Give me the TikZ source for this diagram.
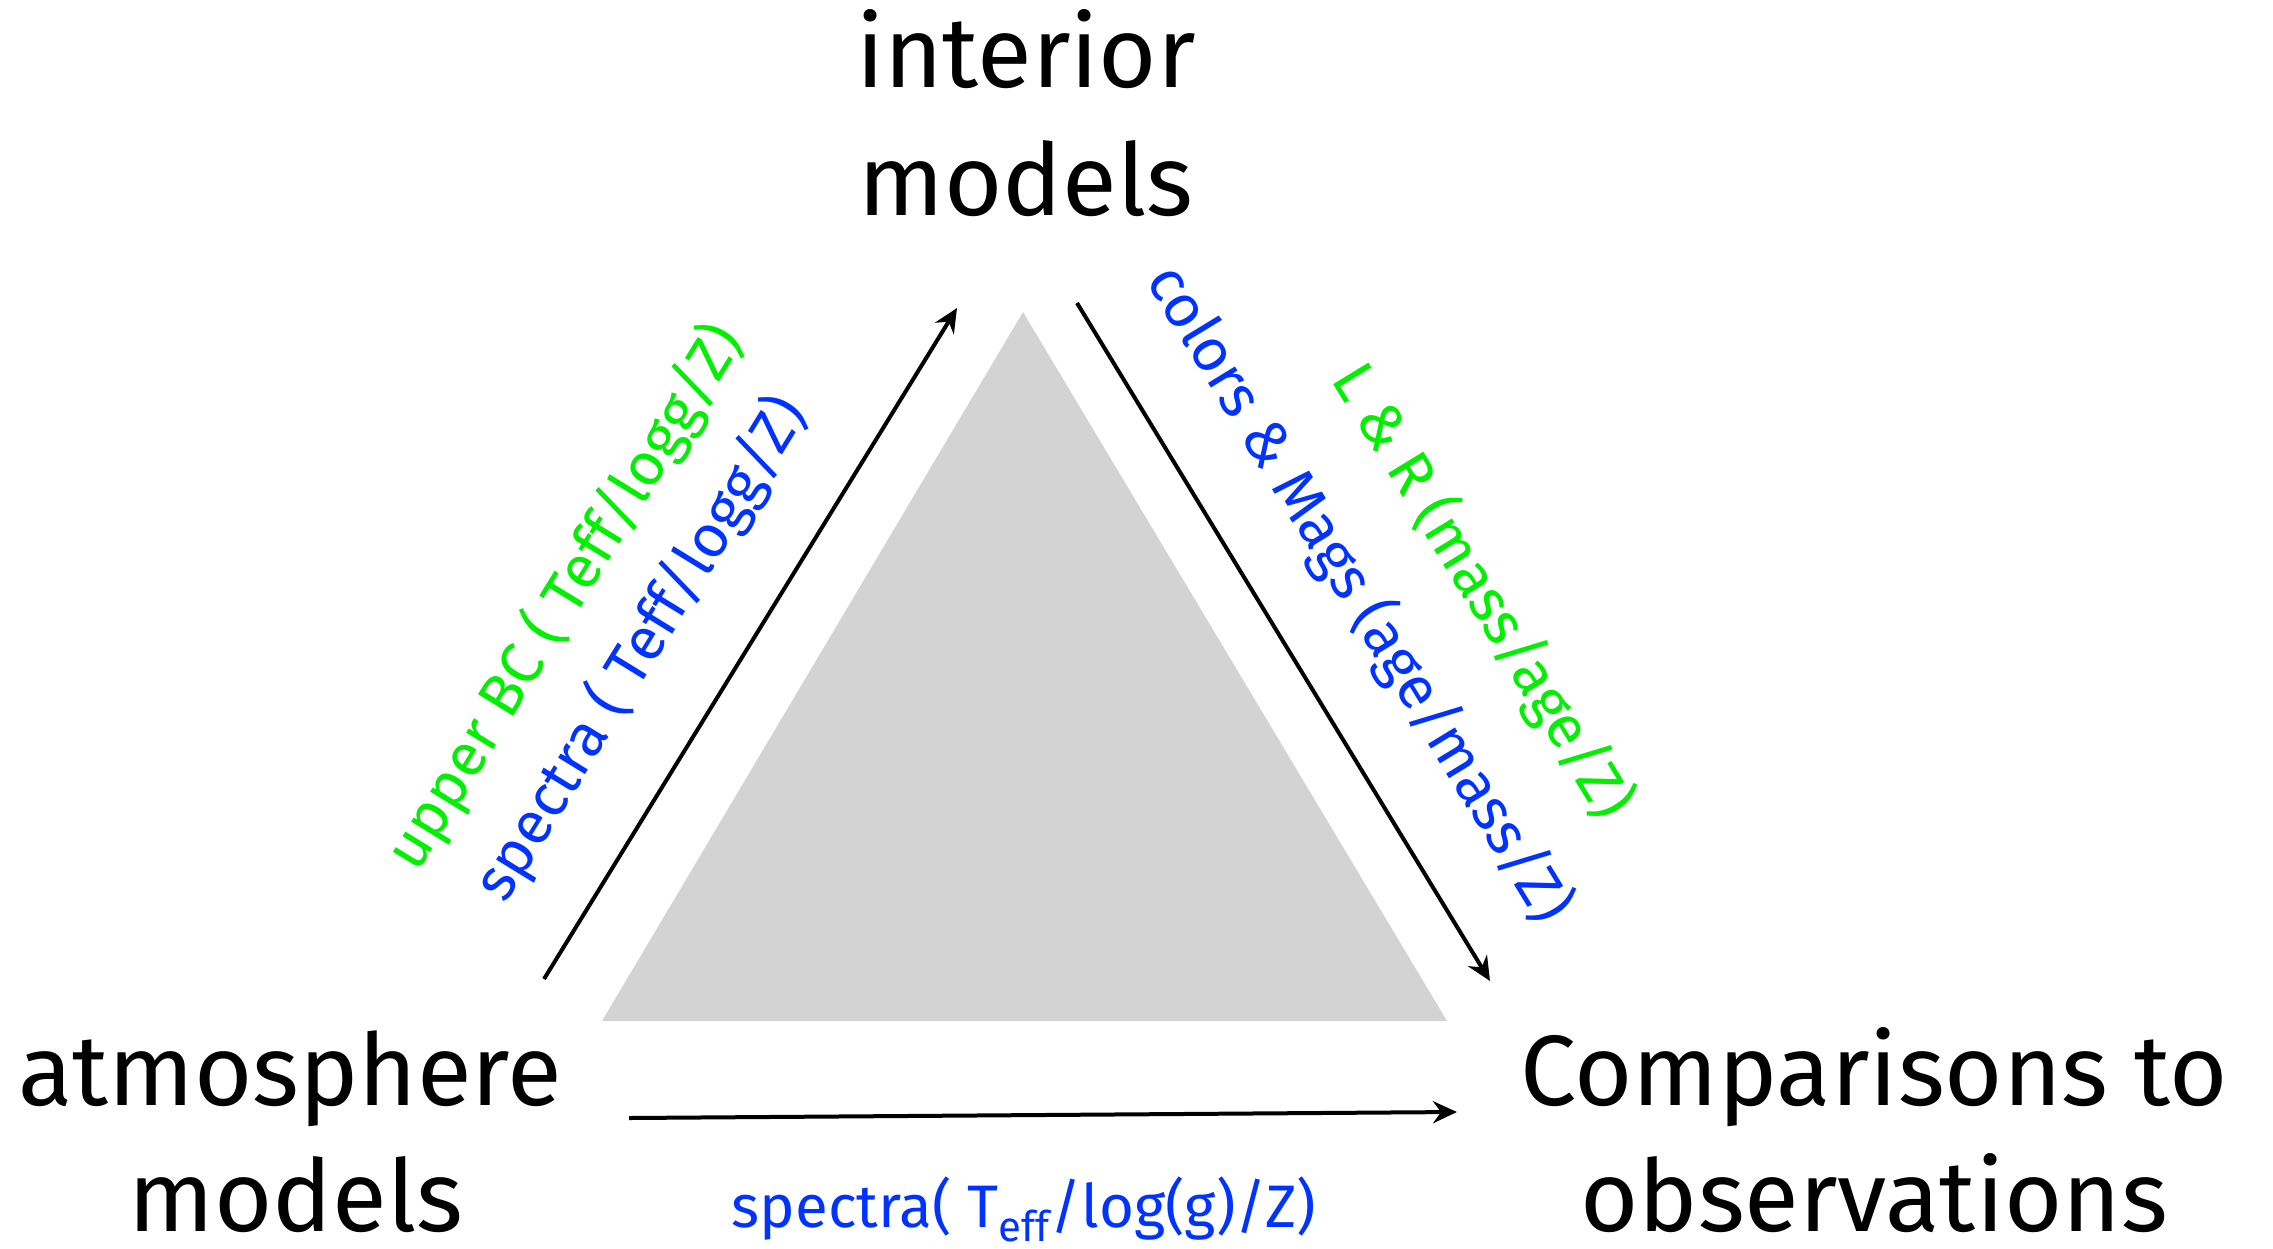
\documentclass[tikz,border=0pt]{standalone}
\usepackage{fontspec}
\setmainfont{Fira Sans}
\usetikzlibrary{arrows.meta}
\definecolor{lgreen}{RGB}{0,240,0}
\definecolor{lblue}{RGB}{0,51,255}
\definecolor{tri}{RGB}{211,211,211}
\begin{document}
\begin{tikzpicture}[x=0.5pt,y=-0.5pt,
  big/.style={font=\fontsize{50}{60}\selectfont, inner sep=0pt},
  lab/.style={font=\fontsize{30}{36}\selectfont, inner sep=0pt},
  arr/.style={line width=2pt, -{Stealth[length=12pt,width=11pt,inset=4pt]}}]
\useasboundingbox (0,0) rectangle (2273,1248);
\fill[tri] (1023,312) -- (602,1021) -- (1447,1021) -- cycle;
\node[big,anchor=base] (int1) at (1026,87) {interior};
\node[big,anchor=base] (int2) at (1026,215) {models};
\node[big,anchor=base] (atm1) at (290,1105) {atmosphere};
\node[big,anchor=base] (atm2) at (296,1231) {models};
\node[big,anchor=base] (cmp1) at (1874,1105) {Comparisons to};
\node[big,anchor=base] (cmp2) at (1874,1231) {observations};
\coordinate (l0) at (544,979);
\coordinate (l1) at (957,308);
\coordinate (r0) at (1077,303);
\coordinate (r1) at (1490,981);
\coordinate (b0) at (629,1118);
\coordinate (b1) at (1457,1112);
\draw[arr] (l0) -- (l1);
\draw[arr] (r0) -- (r1);
\draw[arr] (b0) -- (b1);
\node[lab,text=lgreen,rotate=58.4] (lup) at (565,597) {upper BC ( Teff/logg/Z)};
\node[lab,text=lblue,rotate=58.4] (lsp) at (641,649) {spectra ( Teff/logg/Z)};
\node[lab,text=lblue,rotate=-58.6] (rcol) at (1359,594) {colors \& Mags (age/mass/Z)};
\node[lab,text=lgreen,rotate=-58.6] (rlr) at (1482,591) {L \& R (mass/age/Z)};
\node[lab,text=lblue,anchor=base] (bsp) at (1024,1227) {spectra( T\textsubscript{eff}/log(g)/Z)};
\end{tikzpicture}
\end{document}
